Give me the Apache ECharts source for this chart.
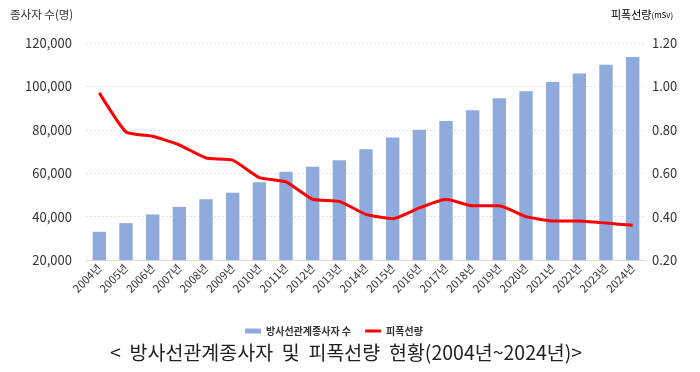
<!DOCTYPE html>
<html><head><meta charset="utf-8">
<script src="https://cdn.jsdelivr.net/npm/echarts@6/dist/echarts.min.js"></script>
<style>html,body{margin:0;padding:0;background:#fff}#c{width:700px;height:372px}</style>
</head><body><div id="c"></div>
<script>
const years = ['2004년','2005년','2006년','2007년','2008년','2009년','2010년','2011년','2012년','2013년','2014년','2015년','2016년','2017년','2018년','2019년','2020년','2021년','2022년','2023년','2024년'];
const workers = [33000,37000,41000,44500,48000,51000,55800,60700,63000,66000,71000,76500,80000,84000,89000,94500,97800,102000,106000,110000,113500];
const dose = [0.97,0.79,0.77,0.73,0.67,0.66,0.58,0.56,0.48,0.47,0.41,0.39,0.44,0.48,0.45,0.45,0.40,0.38,0.38,0.37,0.36];
const seriesNames = ['방사선관계종사자 수','피폭선량'];
const FONT = "'Noto Sans CJK KR', 'Noto Sans', sans-serif";
const chart = echarts.init(document.getElementById('c'), null, {renderer:'canvas'});
chart.setOption({
  animation:false,
  textStyle:{fontFamily:FONT},
  grid:{left:86,right:54,top:43,bottom:112,containLabel:false},
  legend:{
    left:240, top:321, itemGap:14, itemWidth:16, itemHeight:5,
    textStyle:{fontSize:10,fontWeight:'bold',color:'#333',fontFamily:FONT},
    data:[{name:seriesNames[0],icon:'rect'},{name:seriesNames[1],icon:'path://M0,0H16V3H0Z'}]
  },
  xAxis:{
    type:'category', data:years,
    axisLine:{lineStyle:{color:'#d9d9d9'}},
    axisTick:{show:false},
    axisLabel:{rotate:45,fontSize:11,color:'#333',margin:6,interval:0,fontFamily:FONT}
  },
  yAxis:[
    {type:'value',min:20000,max:120000,interval:20000,
     axisLine:{show:false},axisTick:{show:false},
     axisLabel:{fontSize:13,color:'#333',margin:14,formatter:v=>v.toLocaleString('en-US')},
     splitLine:{lineStyle:{color:'#e3e3e3',type:[2,2]}}},
    {type:'value',min:0.2,max:1.2,interval:0.2,
     axisLine:{show:false},axisTick:{show:false},
     axisLabel:{fontSize:13,color:'#333',margin:6,formatter:v=>v.toFixed(2)},
     splitLine:{show:false}}
  ],
  graphic:[
    {type:'text',left:10,top:9,style:{text:'종사자 수(명)',font:'11.5px '+FONT,fill:'#333'}},
    {type:'text',left:611,top:9,style:{
      text:'{a|피폭선량}{b|(mSv)}',
      rich:{a:{fontSize:11,fontFamily:FONT,color:'#333'},b:{fontSize:8,fontFamily:FONT,color:'#333'}}
    }},
    {type:'text',left:110,top:343,style:{text:'<  방사선관계종사자  및  피폭선량  현황(2004년~2024년)>',font:'19.5px '+FONT,fill:'#222'}}
  ],
  series:[
    {name:seriesNames[0],type:'bar',data:workers,barWidth:'50%',itemStyle:{color:'#8faadc'}},
    {name:seriesNames[1],type:'line',yAxisIndex:1,data:dose,symbol:'none',smooth:0.15,
     lineStyle:{color:'#ff0000',width:3},itemStyle:{color:'#ff0000'}}
  ]
});
</script></body></html>
